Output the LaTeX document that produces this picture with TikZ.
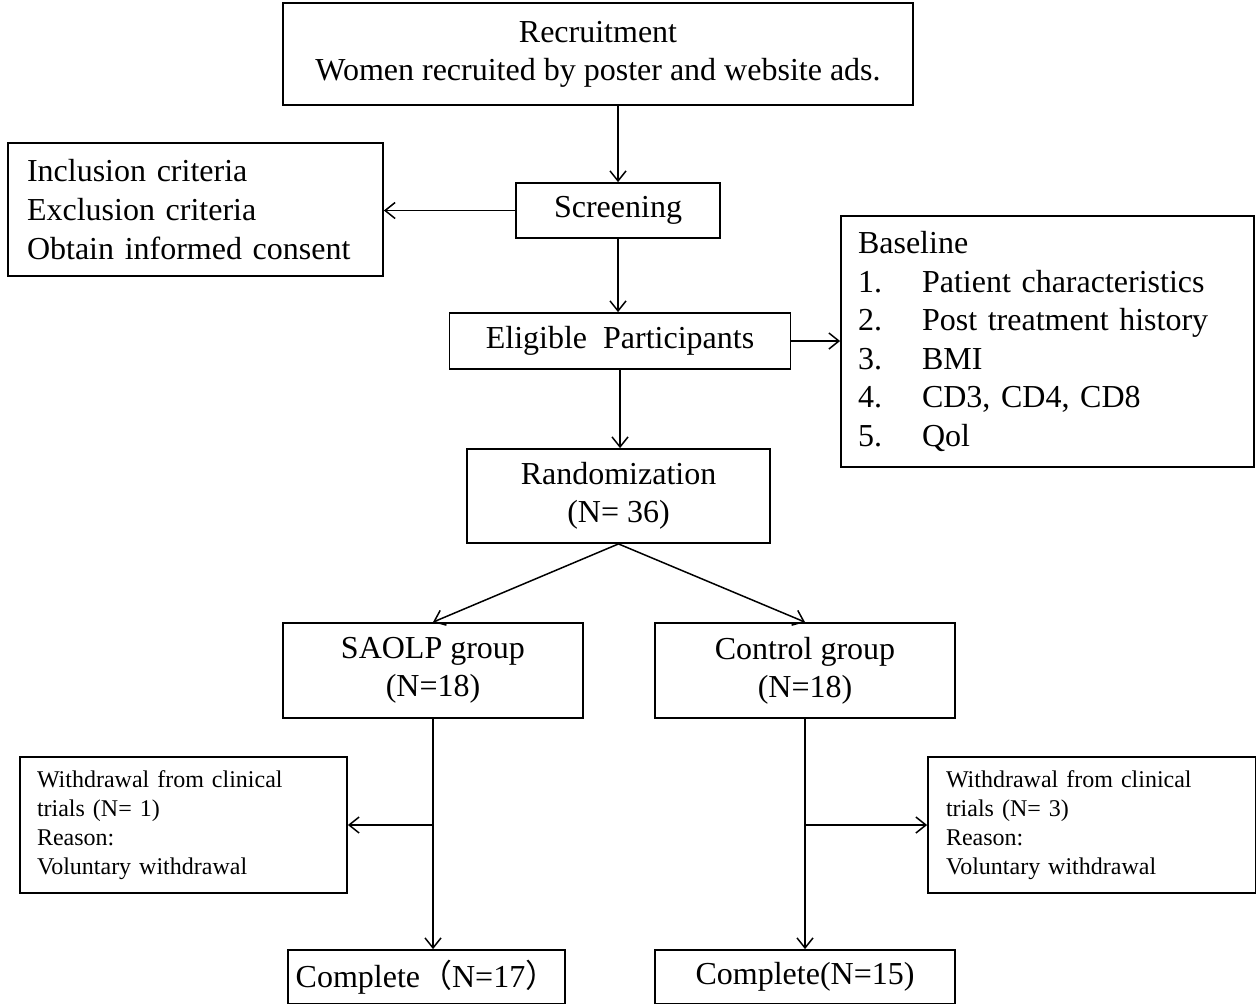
\documentclass[tikz,border=0pt]{standalone}
\usepackage{fontspec}
\setmainfont{Liberation Serif}
\newfontfamily\cjk{Noto Sans CJK SC}
\usetikzlibrary{arrows.meta}

\begin{document}
\begin{tikzpicture}[x=0.5pt,y=-0.5pt,
  box/.style={draw, line width=0.9pt, align=center, inner sep=0pt, font=\fontsize{16}{19}\selectfont},
  small/.style={font=\fontsize{12}{14.5}\selectfont},
  arr/.style={-{Straight Barb[length=5pt,width=8pt]}, line width=0.75pt}]
\clip (0,0) rectangle (1256,1003);

\node[box, minimum width=315pt, minimum height=51pt] (recruit) at (598,54) {Recruitment\\Women recruited by poster and website ads.};
\node[box, minimum width=102pt, minimum height=27.5pt] (screen) at (618,210.5) {Screening};
\node[box, align=left, inner xsep=9.5pt, text width=168.5pt, minimum height=66.5pt, font=\fontsize{16}{19.5}\selectfont] (crit) at (195.5,209.5) {Inclusion criteria\\Exclusion criteria\\Obtain informed consent};
\node[box, minimum width=170.5pt, minimum height=28pt] (elig) at (620,341) {Eligible\ \ Participants};
\node[box, align=left, inner xsep=8.5pt, text width=189.5pt, minimum height=125.5pt, font=\fontsize{16}{19.3}\selectfont] (base) at (1047.5,341.5) {Baseline\\\makebox[32pt][l]{1.}Patient characteristics\\\makebox[32pt][l]{2.}Post treatment history\\\makebox[32pt][l]{3.}BMI\\\makebox[32pt][l]{4.}CD3, CD4, CD8\\\makebox[32pt][l]{5.}Qol};
\node[box, minimum width=151.5pt, minimum height=47pt] (rand) at (618.5,496) {Randomization\\(N= 36)};
\node[box, minimum width=150pt, minimum height=47.5pt] (saolp) at (433,670.5) {SAOLP group\\(N=18)};
\node[box, minimum width=150pt, minimum height=47.5pt] (ctrl) at (805,670.5) {Control group\\(N=18)};
\node[box, small, align=left, inner xsep=8.5pt, text width=146.5pt, minimum height=68pt] (wd1) at (183.5,825) {Withdrawal from clinical\\trials (N= 1)\\Reason:\\Voluntary withdrawal};
\node[box, small, align=left, inner xsep=9pt, text width=146pt, minimum height=68pt] (wd2) at (1092,825) {Withdrawal from clinical\\trials (N= 3)\\Reason:\\Voluntary withdrawal};
\node[box, minimum width=138.5pt, minimum height=27pt] (done1) at (426.5,977) {Complete{\cjk （}N=17{\cjk ）}};
\node[box, minimum width=150pt, minimum height=27pt] (done2) at (805,977) {Complete(N=15)};

\coordinate (split1) at (saolp.south |- wd1.east);
\coordinate (split2) at (ctrl.south |- wd2.west);

\draw[arr] (screen.north |- recruit.south) -- (screen.north);
\draw[arr] (screen.west) -- (crit.east |- screen.west);
\draw[arr] (screen.south) -- (screen.south |- elig.north);
\draw[arr] (elig.east) -- (base.west |- elig.east);
\draw[arr] (elig.south) -- (elig.south |- rand.north);
\draw[arr] (rand.south) -- (saolp.north);
\draw[arr] (rand.south) -- (ctrl.north);
\draw[arr] (saolp.south) -- (saolp.south |- done1.north);
\draw[arr] (split1) -- (wd1.east);
\draw[arr] (ctrl.south) -- (ctrl.south |- done2.north);
\draw[arr] (split2) -- (wd2.west);
\end{tikzpicture}
\end{document}
